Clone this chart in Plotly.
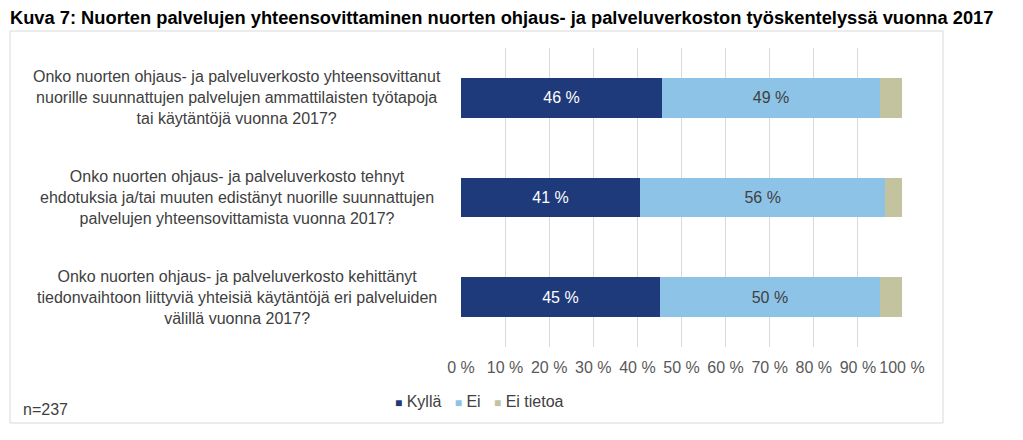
import plotly.graph_objects as go

title = "Kuva 7: Nuorten palvelujen yhteensovittaminen nuorten ohjaus- ja palveluverkoston työskentelyssä vuonna 2017"
categories = [
    "Onko nuorten ohjaus- ja palveluverkosto yhteensovittanut<br>nuorille suunnattujen palvelujen ammattilaisten työtapoja<br>tai käytäntöjä vuonna 2017?",
    "Onko nuorten ohjaus- ja palveluverkosto tehnyt<br>ehdotuksia ja/tai muuten edistänyt nuorille suunnattujen<br>palvelujen yhteensovittamista vuonna 2017?",
    "Onko nuorten ohjaus- ja palveluverkosto kehittänyt<br>tiedonvaihtoon liittyviä yhteisiä käytäntöjä eri palveluiden<br>välillä vuonna 2017?",
]
cat_ids = ["q1", "q2", "q3"]
series_names = ["Kyllä", "Ei", "Ei tietoa"]
kylla = [45.6, 40.6, 45.1]
ei = [49.4, 55.6, 49.9]
ei_tietoa = [5.0, 3.8, 5.0]
kylla_labels = ["46 %", "41 %", "45 %"]
ei_labels = ["49 %", "56 %", "50 %"]
tick_vals = [0, 10, 20, 30, 40, 50, 60, 70, 80, 90, 100]
tick_text = ["0 %", "10 %", "20 %", "30 %", "40 %", "50 %", "60 %", "70 %", "80 %", "90 %", "100 %"]
note = "n=237"

colors = ["#1F3A7A", "#8DC3E7", "#C4C3A0"]
font_main = "Liberation Sans, Arial, sans-serif"
txt_col = "#404040"

# page has an 8px body margin; lay out in screen pixels
W, H, OFF = 1007, 424, 8


def fx(x):
    return (x - OFF) / W


def fy(y):
    return 1 - (y - OFF) / H


fig = go.Figure()
fig.add_trace(go.Bar(y=cat_ids, x=kylla, orientation="h", name=series_names[0],
                     marker=dict(color=colors[0], line=dict(width=0)),
                     text=kylla_labels, textposition="inside", insidetextanchor="middle",
                     textfont=dict(color="white", size=16, family=font_main),
                     showlegend=False))
fig.add_trace(go.Bar(y=cat_ids, x=ei, orientation="h", name=series_names[1],
                     marker=dict(color=colors[1], line=dict(width=0)),
                     text=ei_labels, textposition="inside", insidetextanchor="middle",
                     textfont=dict(color=txt_col, size=16, family=font_main),
                     showlegend=False))
fig.add_trace(go.Bar(y=cat_ids, x=ei_tietoa, orientation="h", name=series_names[2],
                     marker=dict(color=colors[2], line=dict(width=0)),
                     showlegend=False))

# category labels, centred text blocks left of the bars
for cid, lab in zip(cat_ids, categories):
    fig.add_annotation(x=fx(237), xref="paper", y=cid, yref="y", text=lab,
                       showarrow=False, xanchor="center", yanchor="middle", align="center",
                       font=dict(size=16, color=txt_col, family=font_main))

# legend (compact, as in the reference)
sep = "\u00a0\u00a0\u00a0"
legend_text = sep.join(
    f"<span style='color:{c};font-size:12px'>\u25A0</span>\u00a0{nm}" for nm, c in zip(series_names, colors)
)
fig.add_annotation(x=fx(479), y=fy(401), xref="paper", yref="paper", text=legend_text,
                   showarrow=False, xanchor="center", yanchor="middle",
                   font=dict(size=16, color=txt_col, family=font_main))

fig.add_annotation(x=fx(8), y=fy(17), xref="paper", yref="paper", text="<b>" + title + "</b>",
                   showarrow=False, xanchor="left", yanchor="middle",
                   font=dict(size=18.3, color="black", family="Liberation Sans, Arial, sans-serif"))
fig.add_annotation(x=fx(21), y=fy(409), xref="paper", yref="paper", text=note,
                   showarrow=False, xanchor="left", yanchor="middle",
                   font=dict(size=16, color=txt_col, family=font_main))

fig.add_shape(type="rect", xref="paper", yref="paper",
              x0=fx(10), x1=fx(943), y0=fy(423), y1=fy(31),
              line=dict(color="#D9D9D9", width=1), fillcolor="rgba(0,0,0,0)", layer="above")

fig.update_layout(
    width=W, height=H,
    margin=dict(l=0, r=0, t=0, b=0, pad=0, autoexpand=False),
    paper_bgcolor="white", plot_bgcolor="white",
    barmode="stack", bargap=0.6,
    showlegend=False,
    font=dict(family=font_main, color=txt_col),
    xaxis=dict(domain=[fx(461), fx(902)], range=[0, 100], tickvals=tick_vals, ticktext=tick_text,
               showgrid=True, gridcolor="#D9D9D9", gridwidth=1, zeroline=False,
               showline=False, ticks="", tickfont=dict(size=16, color="#595959"), ticklabelstandoff=9),
    yaxis=dict(domain=[fy(347), fy(48)], autorange="reversed", showticklabels=False,
               showgrid=False, zeroline=False, showline=False, ticks=""),
)

fig.write_html("out.html")
